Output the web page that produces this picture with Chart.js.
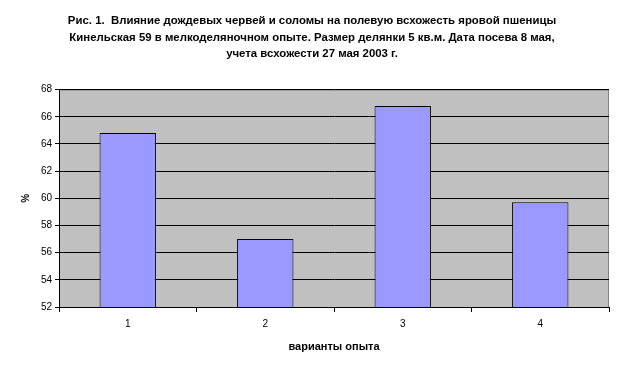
<!DOCTYPE html>
<html>
<head>
<meta charset="utf-8">
<script src="https://cdn.jsdelivr.net/npm/chart.js@4"></script>
<style>
  html, body { margin: 0; padding: 0; background: #fff; }
  #wrap { width: 624px; height: 371px; }
</style>
</head>
<body>
<div id="wrap"><canvas id="chart" width="624" height="371"></canvas></div>
<script>
const variants = ['1', '2', '3', '4'];
const germination = [64.8, 57.0, 66.8, 59.7];
const titleLines = [
  'Рис. 1.  Влияние дождевых червей и соломы на полевую всхожесть яровой пшеницы',
  'Кинельская 59 в мелкоделяночном опыте. Размер делянки 5 кв.м. Дата посева 8 мая,',
  'учета всхожести 27 мая 2003 г.'
];

// grey plot area with a thin grey frame, like the old Excel charts
const plotBackground = {
  id: 'plotBackground',
  beforeDraw(chart) {
    const { ctx, chartArea: a } = chart;
    ctx.save();
    ctx.fillStyle = '#C0C0C0';
    ctx.fillRect(a.left, a.top, a.right - a.left, a.bottom - a.top);
    ctx.strokeStyle = '#808080';
    ctx.lineWidth = 1;
    ctx.strokeRect(a.left + 0.5, a.top + 0.5, a.right - a.left - 1, a.bottom - a.top);
    ctx.restore();
  }
};

Chart.defaults.font.family = 'Arial, "Liberation Sans", sans-serif';
Chart.defaults.color = '#000';

new Chart(document.getElementById('chart'), {
  type: 'bar',
  data: {
    labels: variants,
    datasets: [{
      data: germination,
      backgroundColor: '#9999FF',
      borderColor: '#000',
      borderWidth: 1,
      barPercentage: 0.41,
      categoryPercentage: 1
    }]
  },
  options: {
    responsive: false,
    animation: false,
    layout: { padding: { left: 0, right: 0, top: 0, bottom: 13 } },
    plugins: {
      legend: { display: false },
      tooltip: { enabled: false },
      title: {
        display: true,
        text: titleLines,
        font: { size: 11.4, weight: 'bold', lineHeight: 1.45 },
        color: '#000',
        padding: { top: 13, bottom: 27 }
      }
    },
    scales: {
      x: {
        afterFit(scale) { scale.height = 51; },
        grid: {
          offset: true,
          drawOnChartArea: false,
          tickLength: 5,
          color: '#000'
        },
        border: { color: '#000' },
        ticks: { font: { size: 10 }, padding: 6, color: '#000' },
        title: {
          display: true,
          text: 'варианты опыта',
          font: { size: 11, weight: 'bold' },
          padding: { top: 6 }
        }
      },
      y: {
        min: 52,
        max: 68,
        afterFit(scale) { scale.width = 59; },
        grid: { color: '#000', tickLength: 4 },
        border: { color: '#000' },
        ticks: { stepSize: 2, font: { size: 10 }, padding: 3, color: '#000' },
        title: {
          display: true,
          text: '%',
          font: { size: 10, weight: 'bold' },
          padding: { top: 20 }
        }
      },
      // empty right-hand strip so the plot ends where the reference does
      spacer: {
        type: 'linear',
        position: 'right',
        afterFit(scale) { scale.width = 15; },
        grid: { display: false },
        border: { display: false },
        ticks: { display: false }
      }
    }
  },
  plugins: [plotBackground]
});
</script>
</body>
</html>
